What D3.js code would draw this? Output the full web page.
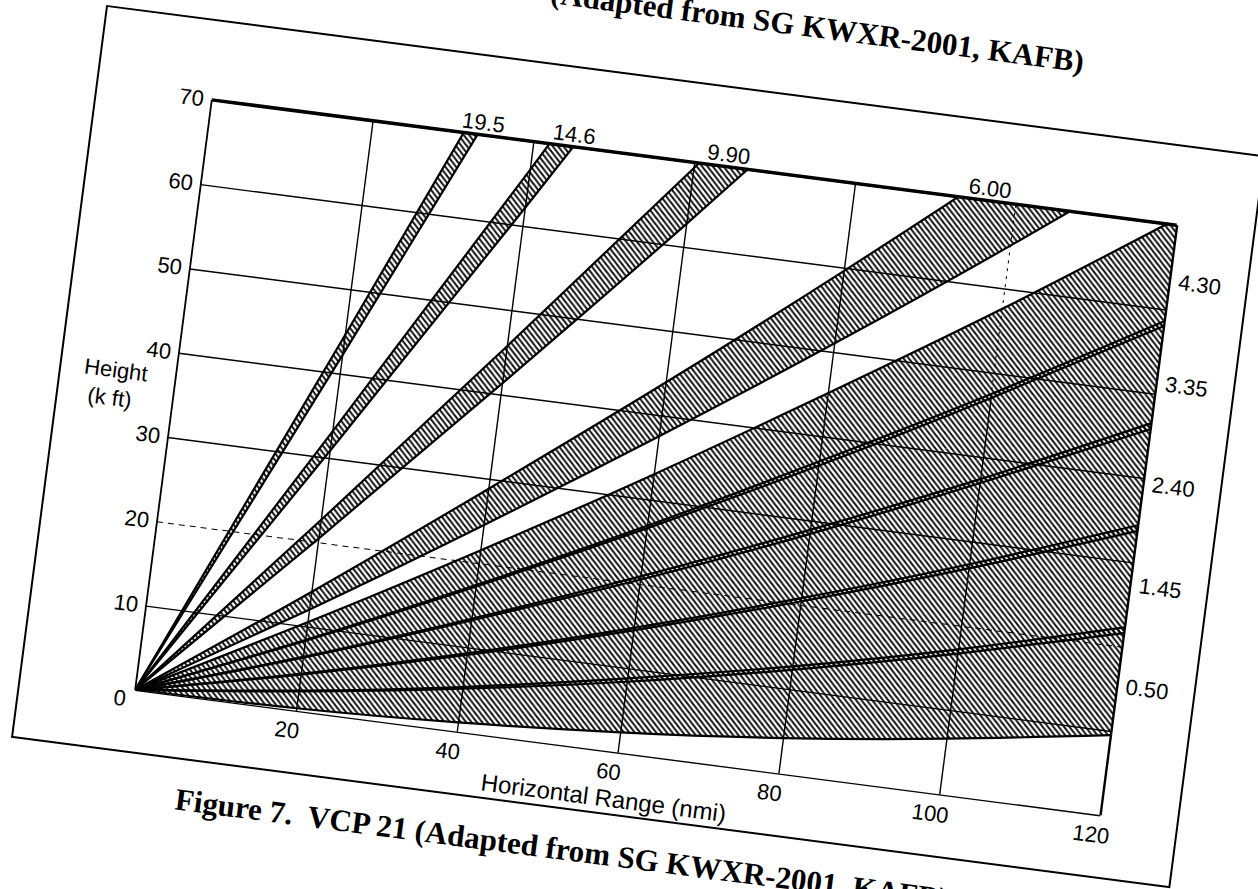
<!DOCTYPE html>
<html><head><meta charset="utf-8">
<script src="https://cdn.jsdelivr.net/npm/d3@7"></script>
<style>
html,body{margin:0;padding:0;background:#fff;}
svg{display:block;}
</style></head><body>
<svg id="chart" width="1258" height="889"></svg>
<script>
// ---------- data ----------
const xTicks = [20, 40, 60, 80, 100, 120];          // Horizontal Range (nmi)
const yTicks = [0, 10, 20, 30, 40, 50, 60, 70];     // Height (k ft)
const ranges = [0, 20, 40, 60, 80, 100, 120];       // ranges at which beam edges were read
const elevations = ["0.50", "1.45", "2.40", "3.35", "4.30", "6.00", "9.90", "14.6", "19.5"];
// lower edge heights (k ft) at the ranges above
const lowerEdges = [
  [0, 0.3, 1.1, 2.4, 4.2, 6.6, 9.5],
  [0, 2.3, 5.1, 8.4, 12.3, 16.7, 21.6],
  [0, 4.3, 9.1, 14.5, 20.4, 26.8, 33.7],
  [0, 6.3, 13.2, 20.5, 28.4, 36.9, 45.8],
  [0, 8.3, 17.2, 26.6, 36.5, 47.0, 58.0],
  [0, 12.0, 24.5, 37.5, 51.0, 65.1, 79.8],
  [0, 20.4, 41.3, 62.7, 84.7],
  [0, 30.8, 62.1, 94.0],
  [0, 42.1, 84.8]
];
// upper edge heights (k ft) at the ranges above
const upperEdges = [
  [0, 2.4, 5.3, 8.8, 12.7, 17.2, 22.3],
  [0, 4.4, 9.3, 14.8, 20.8, 27.3, 34.4],
  [0, 6.4, 13.4, 20.9, 28.9, 37.4, 46.5],
  [0, 8.4, 17.4, 26.9, 37.0, 47.5, 58.6],
  [0, 10.5, 21.5, 33.0, 45.1, 57.6, 70.8],
  [0, 14.1, 28.8, 43.9, 59.6, 75.9, 92.6],
  [0, 22.6, 45.7, 69.3, 93.5],
  [0, 33.1, 66.6, 100.8],
  [0, 44.5, 89.5]
];
const sideLabels = ["4.30", "3.35", "2.40", "1.45", "0.50"];
const sideLabelHeights = [63.4, 51.3, 39.4, 27.4, 15.4];
const topLabels = ["19.5", "14.6", "9.90", "6.00"];
const topLabelRanges = [33.6, 44.9, 64.1, 96.6];
const yTitle = ["Height", "(k ft)"];
const xTitle = "Horizontal Range (nmi)";
const caption = "Figure 7.  VCP 21 (Adapted from SG KWXR-2001, KAFB)";
const prevCaption = "(Adapted from SG KWXR-2001, KAFB)";

// ---------- layout ----------
const W = 973, H = 595;
const FRAME_W = 1167, FRAME_H = 737;
const SANS = "'Liberation Sans', Arial, Helvetica, sans-serif";
const SERIF = "'Liberation Serif', 'Times New Roman', serif";

const svg = d3.select("#chart");
const defs = svg.append("defs");
const pat = defs.append("pattern").attr("id", "hatch")
  .attr("patternUnits", "userSpaceOnUse").attr("width", 6).attr("height", 6);
pat.append("path").attr("d", "M-1,-1L7,7M-1,5L1,7M5,-1L7,1")
  .attr("stroke", "#000").attr("stroke-width", 1.9).attr("fill", "none");
defs.append("clipPath").attr("id", "plotClip").append("rect")
  .attr("x", 0).attr("y", 0).attr("width", W).attr("height", H);

const page = svg.append("g").attr("transform", "translate(107,6) rotate(7.4)");
page.append("rect").attr("width", FRAME_W).attr("height", FRAME_H)
  .attr("fill", "none").attr("stroke", "#000").attr("stroke-width", 2);

page.append("text").attr("x", 976).attr("y", -60).attr("text-anchor", "end")
  .attr("font-family", SERIF).attr("font-weight", "bold").attr("font-size", 31)
  .text(prevCaption);
page.append("text").attr("x", 170).attr("y", FRAME_H + 51)
  .style("white-space", "pre")
  .attr("font-family", SERIF).attr("font-weight", "bold").attr("font-size", 31)
  .text(caption);

const plot = page.append("g").attr("transform", "translate(116,79.6)");
const x = d3.scaleLinear().domain([0, 120]).range([0, W]);
const y = d3.scaleLinear().domain([0, 70]).range([H, 0]);

// y axis + horizontal grid
const yAxis = plot.append("g")
  .call(d3.axisLeft(y).tickValues(yTicks).tickSize(-W).tickPadding(8).tickFormat(d3.format("d")))
  .attr("font-family", SANS).attr("font-size", 22);
yAxis.select(".domain").remove();
yAxis.selectAll("line").attr("stroke", "#000").attr("stroke-width", 1.4);
yAxis.selectAll("text").attr("fill", "#000");
yAxis.selectAll(".tick").filter(d => d === 20).select("line")
  .attr("stroke-dasharray", "6,5").attr("stroke-width", 1);
yAxis.selectAll(".tick").filter(d => d === 0).select("text").attr("dy", "0.77em");

// x axis + vertical grid
const xAxis = plot.append("g").attr("transform", `translate(0,${H})`)
  .call(d3.axisBottom(x).tickValues(xTicks).tickSize(-H).tickPadding(12).tickFormat(d3.format("d")))
  .attr("font-family", SANS).attr("font-size", 22);
xAxis.select(".domain").remove();
xAxis.selectAll("line").attr("stroke", "#000").attr("stroke-width", 1.4);
xAxis.selectAll("text").attr("fill", "#000").attr("dx", -7);
xAxis.selectAll(".tick").filter(d => d === 120).select("line").attr("stroke-width", 2.4);
xAxis.selectAll(".tick").filter(d => d === 100).select("line").attr("y2", y(47) - H);
plot.append("line").attr("x1", x(100)).attr("x2", x(100)).attr("y1", y(47)).attr("y2", y(70))
  .attr("stroke", "#000").attr("stroke-width", 1).attr("stroke-dasharray", "3,5");

// beams
const beams = elevations.map((e, i) => ({
  e, pts: lowerEdges[i].map((lo, j) => ({ r: ranges[j], lo, hi: upperEdges[i][j] }))
}));
const area = d3.area().x(d => x(d.r)).y0(d => y(d.lo)).y1(d => y(d.hi)).curve(d3.curveNatural);
const line = d3.line().x(d => x(d.r)).y(d => y(d.v)).curve(d3.curveNatural);
const beamG = plot.append("g").attr("clip-path", "url(#plotClip)");
beamG.selectAll("path.beam").data(beams).join("path").attr("class", "beam")
  .attr("d", d => area(d.pts)).attr("fill", "url(#hatch)");
beamG.selectAll("path.lo").data(beams).join("path").attr("class", "lo")
  .attr("d", d => line(d.pts.map(p => ({ r: p.r, v: p.lo }))))
  .attr("fill", "none").attr("stroke", "#000").attr("stroke-width", 2.2);
beamG.selectAll("path.hi").data(beams).join("path").attr("class", "hi")
  .attr("d", d => line(d.pts.map(p => ({ r: p.r, v: p.hi }))))
  .attr("fill", "none").attr("stroke", "#000").attr("stroke-width", 2.2);

// frame lines of the plot
plot.append("line").attr("x1", x(0)).attr("x2", x(120)).attr("y1", y(70)).attr("y2", y(70))
  .attr("stroke", "#000").attr("stroke-width", 3.5);
plot.append("line").attr("x1", x(0)).attr("x2", x(0)).attr("y1", y(0)).attr("y2", y(70))
  .attr("stroke", "#000").attr("stroke-width", 1.8);

// labels
plot.selectAll("text.side").data(sideLabels).join("text").attr("class", "side")
  .attr("x", W + 9).attr("y", (d, i) => y(sideLabelHeights[i])).attr("dy", "0.35em")
  .attr("font-family", SANS).attr("font-size", 22).text(d => d);
plot.selectAll("text.top").data(topLabels).join("text").attr("class", "top")
  .attr("x", (d, i) => x(topLabelRanges[i])).attr("y", -5).attr("text-anchor", "middle")
  .attr("font-family", SANS).attr("font-size", 22).text(d => d);
plot.append("text").attr("x", -92).attr("y", y(37.1) + 8)
  .attr("font-family", SANS).attr("font-size", 22).text(yTitle[0]);
plot.append("text").attr("x", -85).attr("y", y(33.8) + 8)
  .attr("font-family", SANS).attr("font-size", 22).text(yTitle[1]);
plot.append("text").attr("x", x(59)).attr("y", H + 55).attr("text-anchor", "middle")
  .attr("font-family", SANS).attr("font-size", 24).text(xTitle);
</script>
</body></html>
